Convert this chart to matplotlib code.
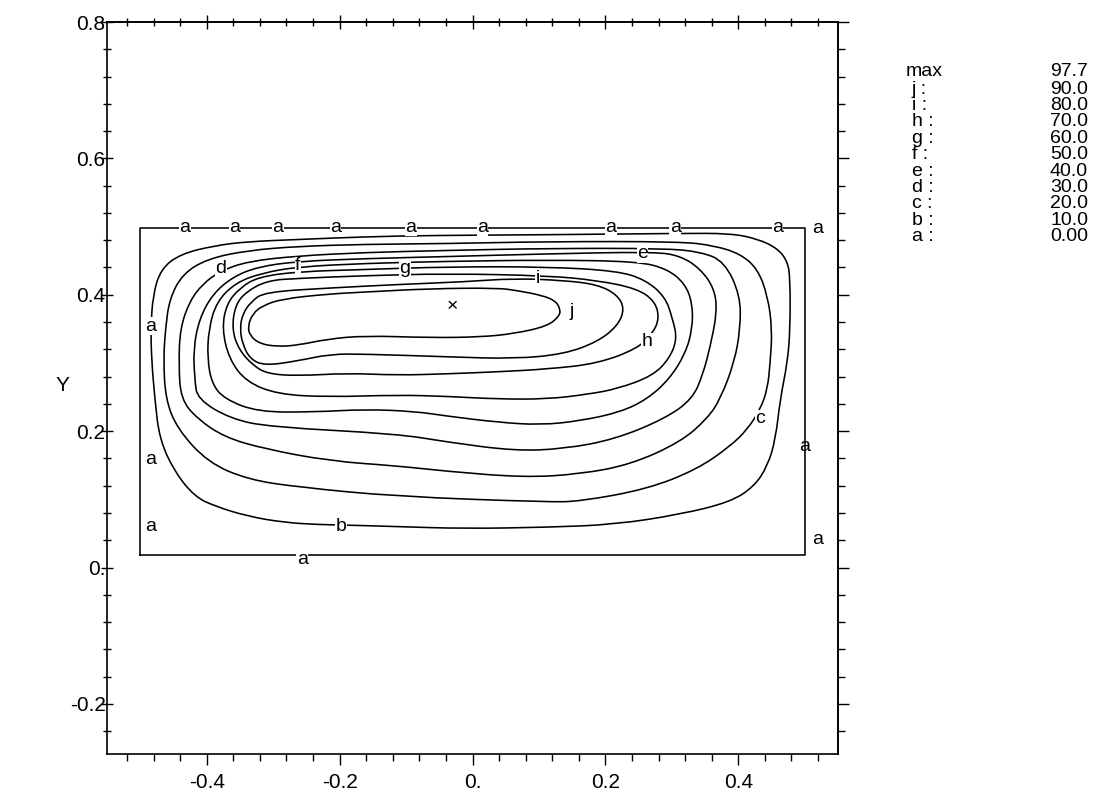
import matplotlib
matplotlib.use("Agg")
import matplotlib.pyplot as plt
from matplotlib import font_manager
from matplotlib.path import Path
from matplotlib.patches import PathPatch
from matplotlib.ticker import MultipleLocator, FixedLocator

avail = {f.name for f in font_manager.fontManager.ttflist}
FONT = next((f for f in ["Liberation Sans Narrow", "Liberation Sans", "DejaVu Sans"] if f in avail))
plt.rcParams['font.family'] = [FONT, 'DejaVu Sans']

# ---------------- data ----------------
levels = [0.0, 10.0, 20.0, 30.0, 40.0, 50.0, 60.0, 70.0, 80.0, 90.0]
level_names = ["a", "b", "c", "d", "e", "f", "g", "h", "i", "j"]
psi_max = 97.7
max_x, max_y = -0.030, 0.382

# domain boundary (psi = 0, contour "a")
box_x = [-0.5, 0.5, 0.5, -0.5, -0.5]
box_y = [0.018, 0.018, 0.4985, 0.4985, 0.018]

b_x = [-0.233, -0.283, -0.338, -0.388, -0.418, -0.448, -0.471, -0.478, -0.483, -0.484,
       -0.481, -0.469, -0.439, -0.388, -0.338, -0.263, -0.162, -0.063, 0.113, 0.313,
       0.388, 0.429, 0.459, 0.474, 0.478, 0.478, 0.474, 0.463, 0.456, 0.444, 0.424,
       0.388, 0.313, 0.214, 0.113, -0.012, -0.113, -0.183]
b_y = [0.063, 0.066, 0.075, 0.090, 0.104, 0.140, 0.188, 0.247, 0.306, 0.350,
       0.399, 0.438, 0.460, 0.472, 0.478, 0.481, 0.485, 0.487, 0.488, 0.490,
       0.490, 0.482, 0.468, 0.449, 0.424, 0.350, 0.301, 0.247, 0.188, 0.149, 0.119,
       0.096, 0.078, 0.063, 0.059, 0.057, 0.060, 0.062]

c_x = [-0.462, -0.465, -0.462, -0.456, -0.436, -0.398, -0.338, -0.263, -0.162, -0.038,
       0.113, 0.313, 0.364, 0.403, 0.429, 0.444, 0.451, 0.448, 0.444, 0.433, 0.414,
       0.388, 0.338, 0.263, 0.162, 0.113, -0.113, -0.263, -0.338, -0.398, -0.444]
c_y = [0.247, 0.306, 0.350, 0.394, 0.431, 0.453, 0.465, 0.471, 0.474, 0.475,
       0.478, 0.478, 0.472, 0.460, 0.438, 0.399, 0.350, 0.301, 0.262, 0.232, 0.203,
       0.178, 0.144, 0.115, 0.097, 0.096, 0.104, 0.118, 0.129, 0.154, 0.203]

d_x = [-0.439, -0.414, -0.373, -0.313, -0.214, -0.113, -0.038, 0.078, 0.162, 0.238,
       0.313, 0.353, 0.373, 0.394, 0.403, 0.403, 0.379, 0.343, 0.289, 0.113, -0.038,
       -0.162, -0.263, -0.338, -0.379, -0.406, -0.426, -0.440, -0.442]
d_y = [0.247, 0.218, 0.191, 0.174, 0.156, 0.149, 0.141, 0.132, 0.137, 0.151,
       0.184, 0.218, 0.247, 0.301, 0.350, 0.399, 0.449, 0.463, 0.468, 0.468, 0.465,
       0.462, 0.457, 0.449, 0.435, 0.416, 0.390, 0.350, 0.299]

e_x = [-0.414, -0.364, -0.304, -0.113, -0.038, 0.063, 0.138, 0.214, 0.289, 0.331,
       0.347, 0.358, 0.368, 0.364, 0.343, 0.313, 0.274, 0.113, -0.038, -0.162,
       -0.263, -0.323, -0.361, -0.391, -0.411, -0.420, -0.418]
e_y = [0.247, 0.218, 0.206, 0.196, 0.184, 0.171, 0.174, 0.188, 0.218, 0.247,
       0.284, 0.325, 0.375, 0.409, 0.438, 0.457, 0.463, 0.460, 0.456, 0.453,
       0.449, 0.441, 0.426, 0.401, 0.365, 0.321, 0.276]

f_x = [-0.373, -0.323, -0.238, -0.162, -0.087, -0.038, 0.038, 0.102, 0.162, 0.223,
       0.263, 0.296, 0.320, 0.331, 0.331, 0.320, 0.293, 0.248, 0.113, -0.038,
       -0.162, -0.263, -0.316, -0.356, -0.385, -0.397, -0.399, -0.392]
f_y = [0.247, 0.228, 0.228, 0.232, 0.229, 0.222, 0.213, 0.209, 0.215, 0.228,
       0.247, 0.276, 0.313, 0.350, 0.387, 0.416, 0.438, 0.449, 0.451, 0.449,
       0.446, 0.441, 0.432, 0.418, 0.390, 0.350, 0.306, 0.269]

g_x = [-0.377, -0.370, -0.350, -0.323, -0.263, -0.162, -0.038, 0.113, 0.218, 0.260,
       0.290, 0.301, 0.308, 0.296, 0.271, 0.218, 0.173, 0.113, 0.038, -0.038,
       -0.113, -0.218, -0.293, -0.340, -0.366]
g_y = [0.350, 0.387, 0.410, 0.426, 0.434, 0.437, 0.441, 0.441, 0.435, 0.422,
       0.397, 0.365, 0.335, 0.306, 0.281, 0.262, 0.254, 0.247, 0.247, 0.251,
       0.253, 0.250, 0.254, 0.272, 0.305]

h_x = [-0.362, -0.357, -0.340, -0.308, -0.263, -0.162, -0.038, 0.113, 0.188, 0.248,
       0.275, 0.281, 0.271, 0.248, 0.188, 0.113, 0.038, -0.038, -0.113, -0.188,
       -0.263, -0.308, -0.330, -0.352]
h_y = [0.350, 0.385, 0.405, 0.421, 0.424, 0.428, 0.431, 0.428, 0.421, 0.409,
       0.390, 0.365, 0.343, 0.321, 0.299, 0.291, 0.287, 0.284, 0.282, 0.285,
       0.281, 0.284, 0.296, 0.320]

i_x = [-0.350, -0.346, -0.333, -0.313, -0.214, -0.113, -0.012, 0.063, 0.138, 0.188,
       0.218, 0.229, 0.218, 0.188, 0.138, 0.063, -0.038, -0.162, -0.214, -0.263,
       -0.313, -0.335, -0.346]
i_y = [0.350, 0.372, 0.390, 0.404, 0.410, 0.415, 0.419, 0.424, 0.421, 0.415,
       0.400, 0.379, 0.354, 0.331, 0.313, 0.306, 0.309, 0.313, 0.313, 0.303,
       0.296, 0.306, 0.328]

j_x = [-0.338, -0.331, -0.316, -0.286, -0.218, -0.162, -0.063, 0.038, 0.068, 0.105,
       0.125, 0.132, 0.131, 0.113, 0.063, 0.012, -0.063, -0.162, -0.218, -0.263,
       -0.293, -0.320, -0.335]
j_y = [0.354, 0.372, 0.384, 0.394, 0.401, 0.404, 0.409, 0.410, 0.406, 0.399,
       0.391, 0.379, 0.369, 0.354, 0.343, 0.338, 0.337, 0.340, 0.335, 0.326,
       0.324, 0.328, 0.340]

contours = [(b_x, b_y), (c_x, c_y), (d_x, d_y), (e_x, e_y), (f_x, f_y),
            (g_x, g_y), (h_x, h_y), (i_x, i_y), (j_x, j_y)]

# contour labels (letter, x, y)
label_text = ["b", "c", "d", "e", "f", "g", "h", "i", "j"]
label_x = [-0.198, 0.433, -0.379, 0.256, -0.263, -0.102, 0.263, 0.098, 0.150]
label_y = [0.060, 0.218, 0.438, 0.460, 0.443, 0.438, 0.331, 0.424, 0.376]

# boundary "a" labels
a_top_x = [-0.433, -0.358, -0.293, -0.206, -0.093, 0.015, 0.208, 0.305, 0.459]
a_left_y = [0.354, 0.159, 0.060]
a_extra_x = [0.519, 0.519, -0.256]
a_extra_y = [0.497, 0.041, 0.012]

xticks = [-0.4, -0.2, 0.0, 0.2, 0.4]
xticklabels = ["-0.4", "-0.2", "0.", "0.2", "0.4"]
yticks = [-0.2, 0.0, 0.2, 0.4, 0.6, 0.8]
yticklabels = ["-0.2", "0.", "0.2", "0.4", "0.6", "0.8"]


def closed_smooth_path(xs, ys):
    """Closed quadratic-Bezier path drawn through the mid-points of the read points."""
    n = len(xs)
    pts = list(zip(xs, ys))
    mid = lambda p, q: ((p[0] + q[0]) / 2, (p[1] + q[1]) / 2)
    verts = [mid(pts[0], pts[1])]
    codes = [Path.MOVETO]
    for k in range(1, n + 1):
        ctrl = pts[k % n]
        end = mid(pts[k % n], pts[(k + 1) % n])
        verts += [ctrl, end]
        codes += [Path.CURVE3, Path.CURVE3]
    return Path(verts, codes)


# ---------------- figure ----------------
fig = plt.figure(figsize=(11.12, 7.96), dpi=100)
ax = fig.add_axes([107/1112, 42/796, 731/1112, 732/796])
ax.set_xlim(-0.55, 0.55)
ax.set_ylim(-0.2735, 0.8)

lw = 1.15
ax.plot(box_x, box_y, color="black", lw=lw)
for cx, cy in contours:
    ax.add_patch(PathPatch(closed_smooth_path(cx, cy), facecolor="none",
                           edgecolor="black", lw=lw))

lab_fs = 14
box = dict(facecolor="white", edgecolor="none", pad=0.3)
for t, x, y in zip(label_text, label_x, label_y):
    ax.text(x, y, t, fontsize=lab_fs, ha="center", va="center", bbox=box)
for x in a_top_x:
    ax.text(x, box_y[2], "a", fontsize=lab_fs, ha="center", va="center", bbox=box)
for y in a_left_y:
    ax.text(-0.484, y, "a", fontsize=lab_fs, ha="center", va="center", bbox=box)
for x, y in zip(a_extra_x, a_extra_y):
    ax.text(x, y, "a", fontsize=lab_fs, ha="center", va="center", bbox=box)
ax.text(0.5, 0.178, "a", fontsize=lab_fs, ha="center", va="center")
ax.text(max_x, max_y, "×", fontsize=lab_fs, ha="center", va="center")

# axes styling
for s in ax.spines.values():
    s.set_linewidth(1.2)
ax.xaxis.set_major_locator(FixedLocator(xticks))
ax.set_xticklabels(xticklabels)
ax.yaxis.set_major_locator(FixedLocator(yticks))
ax.set_yticklabels(yticklabels)
ax.xaxis.set_minor_locator(MultipleLocator(0.04))
ax.yaxis.set_minor_locator(MultipleLocator(0.04))
ax.tick_params(axis="both", which="both", top=False, right=False, labelsize=15)
ax.tick_params(axis="x", which="major", direction="out", length=8, width=1, pad=6)
ax.tick_params(axis="x", which="minor", direction="out", length=5, width=1)
ax.tick_params(axis="y", which="major", direction="inout", length=8, width=1, pad=-3)
ax.tick_params(axis="y", which="minor", direction="inout", length=6, width=1)

top = ax.secondary_xaxis("top")
top.xaxis.set_major_locator(FixedLocator(xticks))
top.xaxis.set_minor_locator(MultipleLocator(0.04))
top.tick_params(axis="x", which="major", direction="inout", length=10, width=1, labeltop=False)
top.tick_params(axis="x", which="minor", direction="inout", length=6, width=1)
top.spines["top"].set_linewidth(1.2)

right = ax.secondary_yaxis("right")
right.yaxis.set_major_locator(FixedLocator(yticks))
right.yaxis.set_minor_locator(MultipleLocator(0.04))
right.tick_params(axis="y", which="major", direction="out", length=8, width=1, labelright=False)
right.tick_params(axis="y", which="minor", direction="out", length=5, width=1)
right.spines["right"].set_linewidth(1.2)

fig.text(62/1112, 1 - 385/796, "Y", fontsize=15, ha="center", va="center")

# level legend on the right
leg_fs = 14
fig.text(906/1112, 1 - 72/796, "max", fontsize=leg_fs, va="center", ha="left")
fig.text(1088/1112, 1 - 72/796, f"{psi_max:.1f}", fontsize=leg_fs, va="center", ha="right")
rows = list(zip(level_names, levels))[::-1]
for k, (nm, lv) in enumerate(rows):
    yy = 1 - (89 + k * 16.4) / 796
    fig.text(912/1112, yy, f"{nm} :", fontsize=leg_fs, va="center", ha="left")
    txt = "0.00" if lv == 0 else f"{lv:.1f}"
    fig.text(1088/1112, yy, txt, fontsize=leg_fs, va="center", ha="right")

fig.savefig("out.png", dpi=100)
